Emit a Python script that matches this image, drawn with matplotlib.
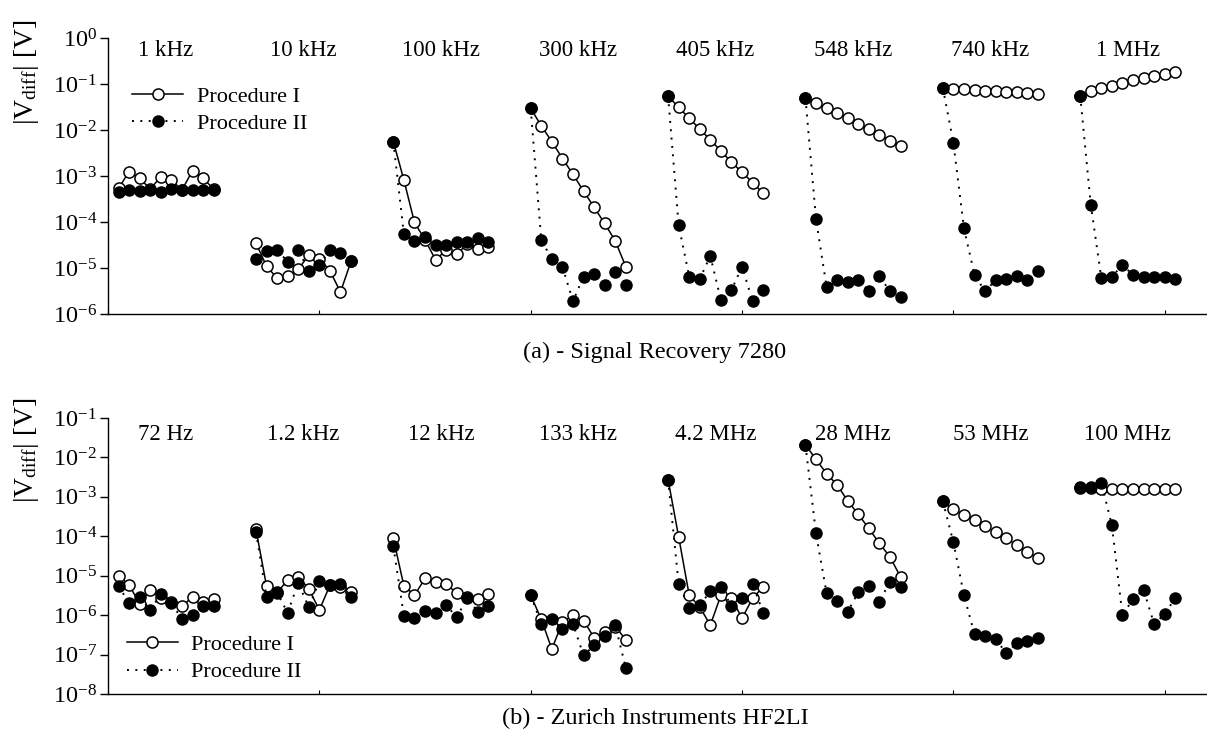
import numpy as np
import matplotlib
matplotlib.use("Agg")
import matplotlib.pyplot as plt
from matplotlib.lines import Line2D
from matplotlib.ticker import LogFormatterMathtext, NullLocator, FixedLocator, LogLocator

plt.rcParams['font.family'] = ['Liberation Serif', 'DejaVu Serif']
plt.rcParams['mathtext.fontset'] = 'custom'
plt.rcParams['mathtext.rm'] = 'Liberation Serif'
plt.rcParams['mathtext.it'] = 'Liberation Serif:italic'
plt.rcParams['mathtext.bf'] = 'Liberation Serif:bold'

# ---------------- data: (a) Signal Recovery 7280 ----------------
freqs_a = ["1 kHz", "10 kHz", "100 kHz", "300 kHz", "405 kHz", "548 kHz", "740 kHz", "1 MHz"]
procI_a = [
    [5.4e-4, 1.25e-3, 8.9e-4, 5.2e-4, 9.7e-4, 8.1e-4, 5.0e-4, 1.3e-3, 8.9e-4, 5.2e-4],
    [3.5e-5, 1.1e-5, 6.0e-6, 6.7e-6, 9.4e-6, 1.9e-5, 1.6e-5, 8.7e-6, 3.0e-6, 1.4e-5],
    [5.6e-3, 8.2e-4, 9.8e-5, 4.1e-5, 1.5e-5, 2.45e-5, 2.0e-5, 3.3e-5, 2.6e-5, 2.9e-5],
    [2.96e-2, 1.23e-2, 5.6e-3, 2.4e-3, 1.09e-3, 4.7e-4, 2.1e-4, 9.3e-5, 3.9e-5, 1.07e-5],
    [5.5e-2, 3.1e-2, 1.8e-2, 1.05e-2, 6.1e-3, 3.5e-3, 2.0e-3, 1.2e-3, 7.2e-4, 4.2e-4],
    [5.0e-2, 3.8e-2, 2.96e-2, 2.3e-2, 1.8e-2, 1.35e-2, 1.03e-2, 7.8e-3, 5.9e-3, 4.5e-3],
    [8.3e-2, 7.9e-2, 7.7e-2, 7.5e-2, 7.2e-2, 7.0e-2, 6.8e-2, 6.6e-2, 6.3e-2, 6.0e-2],
    [5.6e-2, 7.2e-2, 8.1e-2, 9.1e-2, 1.03e-1, 1.22e-1, 1.37e-1, 1.49e-1, 1.65e-1, 1.86e-1],
]
procII_a = [
    [4.6e-4, 5.0e-4, 4.7e-4, 5.0e-4, 4.5e-4, 5.2e-4, 4.9e-4, 5.0e-4, 5.0e-4, 5.0e-4],
    [1.55e-5, 2.4e-5, 2.5e-5, 1.37e-5, 2.5e-5, 8.6e-6, 1.17e-5, 2.45e-5, 2.15e-5, 1.44e-5],
    [5.6e-3, 5.4e-5, 3.9e-5, 4.7e-5, 3.1e-5, 3.2e-5, 3.6e-5, 3.7e-5, 4.4e-5, 3.6e-5],
    [2.96e-2, 4.1e-5, 1.55e-5, 1.07e-5, 1.9e-6, 6.5e-6, 7.3e-6, 4.3e-6, 8.3e-6, 4.3e-6],
    [5.5e-2, 8.6e-5, 6.5e-6, 5.8e-6, 1.82e-5, 2.0e-6, 3.3e-6, 1.07e-5, 1.9e-6, 3.3e-6],
    [5.0e-2, 1.15e-4, 3.9e-6, 5.5e-6, 5.0e-6, 5.5e-6, 3.2e-6, 6.7e-6, 3.1e-6, 2.4e-6],
    [8.3e-2, 5.3e-3, 7.3e-5, 7.1e-6, 3.1e-6, 5.5e-6, 5.7e-6, 6.7e-6, 5.5e-6, 8.6e-6],
    [5.6e-2, 2.4e-4, 6.0e-6, 6.5e-6, 1.16e-5, 7.1e-6, 6.3e-6, 6.3e-6, 6.3e-6, 5.8e-6],
]

# ---------------- data: (b) Zurich Instruments HF2LI ----------------
freqs_b = ["72 Hz", "1.2 kHz", "12 kHz", "133 kHz", "4.2 MHz", "28 MHz", "53 MHz", "100 MHz"]
procI_b = [
    [1.0e-5, 5.9e-6, 1.9e-6, 4.4e-6, 2.7e-6, 2.1e-6, 1.66e-6, 2.95e-6, 2.1e-6, 2.6e-6],
    [1.5e-4, 5.5e-6, 3.8e-6, 7.6e-6, 9.4e-6, 4.7e-6, 1.35e-6, 5.7e-6, 5.1e-6, 3.8e-6],
    [8.9e-5, 5.5e-6, 3.2e-6, 8.5e-6, 6.8e-6, 6.2e-6, 3.6e-6, 2.9e-6, 2.5e-6, 3.5e-6],
    [3.2e-6, 7.9e-7, 1.38e-7, 6.6e-7, 9.8e-7, 7.3e-7, 2.7e-7, 3.8e-7, 5.1e-7, 2.4e-7],
    [2.75e-3, 9.8e-5, 3.2e-6, 1.6e-6, 5.6e-7, 3.2e-6, 2.7e-6, 8.3e-7, 2.7e-6, 5.2e-6],
    [2.1e-2, 8.9e-3, 3.9e-3, 2.0e-3, 7.9e-4, 3.6e-4, 1.58e-4, 6.6e-5, 3.0e-5, 9.3e-6],
    [7.8e-4, 4.9e-4, 3.5e-4, 2.6e-4, 1.86e-4, 1.26e-4, 8.9e-5, 6.0e-5, 3.9e-5, 2.75e-5],
    [1.72e-3, 1.7e-3, 1.6e-3, 1.6e-3, 1.6e-3, 1.6e-3, 1.6e-3, 1.58e-3, 1.58e-3, 1.55e-3],
]
procII_b = [
    [5.5e-6, 2.0e-6, 2.9e-6, 1.35e-6, 3.4e-6, 2.0e-6, 7.9e-7, 1.0e-6, 1.66e-6, 1.7e-6],
    [1.3e-4, 2.9e-6, 3.7e-6, 1.15e-6, 6.5e-6, 1.6e-6, 7.2e-6, 5.7e-6, 6.3e-6, 2.9e-6],
    [5.6e-5, 9.5e-7, 8.3e-7, 1.3e-6, 1.15e-6, 1.8e-6, 8.9e-7, 2.7e-6, 1.23e-6, 1.66e-6],
    [3.2e-6, 6.0e-7, 8.2e-7, 4.4e-7, 6.0e-7, 9.6e-8, 1.7e-7, 2.9e-7, 5.6e-7, 4.6e-8],
    [2.75e-3, 6.2e-6, 1.55e-6, 1.8e-6, 4.0e-6, 5.1e-6, 1.7e-6, 2.7e-6, 6.2e-6, 1.15e-6],
    [2.1e-2, 1.18e-4, 3.6e-6, 2.3e-6, 1.23e-6, 3.8e-6, 5.5e-6, 2.2e-6, 7.1e-6, 5.1e-6],
    [7.8e-4, 7.1e-5, 3.2e-6, 3.3e-7, 2.95e-7, 2.45e-7, 1.1e-7, 1.94e-7, 2.25e-7, 2.7e-7],
    [1.74e-3, 1.78e-3, 2.3e-3, 1.9e-4, 9.8e-7, 2.6e-6, 4.4e-6, 5.9e-7, 1.07e-6, 2.75e-6],
]

legend_labels = ["Procedure I", "Procedure II"]
captions = ["(a) - Signal Recovery 7280", "(b) - Zurich Instruments HF2LI"]

# ---------------- figure ----------------
W, H = 1207, 738
fig = plt.figure(figsize=(W / 100, H / 100), dpi=100)

def px_axes(left, top, right, bottom):
    return fig.add_axes([left / W, 1 - bottom / H, (right - left) / W, (bottom - top) / H])

ax_a = px_axes(108, 38, 1207, 314)
ax_b = px_axes(108, 418, 1207, 694)

ms = 8.0
open_kw = dict(color='black', lw=1.1, marker='o', ms=ms, mfc='white', mec='black', mew=1.1)
fill_kw = dict(color='black', lw=1.4, ls=(0, (1, 3.3)), marker='o', ms=ms, mfc='black', mec='black')

def draw(ax, freqs, pI, pII, ylim, label_y, legend_anchor):
    npts = len(pI[0])
    step = npts + 3
    for g, name in enumerate(freqs):
        x = 1 + step * g + np.arange(npts)
        ax.plot(x, pI[g], zorder=3, **open_kw)
        ax.plot(x, pII[g], zorder=4, **fill_kw)
        ax.text(x.mean(), label_y, name, transform=ax.get_xaxis_transform(),
                ha='center', va='center', fontsize=16.5)
    ax.set_yscale('log')
    ax.set_ylim(*ylim)
    ax.set_xlim(0, 104)
    ax.yaxis.set_major_locator(LogLocator(base=10, numticks=20))
    ax.yaxis.set_major_formatter(LogFormatterMathtext())
    ax.yaxis.set_minor_locator(NullLocator())
    ax.xaxis.set_major_locator(FixedLocator([0, 20, 40, 60, 80, 100]))
    ax.tick_params(axis='x', direction='in', length=3, width=0.8, labelbottom=False)
    ax.tick_params(axis='y', direction='out', length=6, width=1.0, labelsize=17.5, pad=2)
    for s in ['top', 'right']:
        ax.spines[s].set_visible(False)
    for s in ['left', 'bottom']:
        ax.spines[s].set_linewidth(1.0)
    handles = [Line2D([], [], **open_kw), Line2D([], [], **fill_kw)]
    ax.legend(handles, legend_labels, loc='upper left', bbox_to_anchor=legend_anchor,
              frameon=False, fontsize=16, handlelength=2.3, handletextpad=0.6,
              labelspacing=0.3, borderpad=0, borderaxespad=0)
    ax.set_ylabel(r"|V$_{\mathrm{diff}}$| [V]", fontsize=20)

draw(ax_a, freqs_a, procI_a, procII_a, (1e-6, 1e0), 0.955, (0.022, 0.825))
draw(ax_b, freqs_b, procI_b, procII_b, (1e-8, 1e-1), 0.94, (0.017, 0.215))

ax_a.yaxis.set_label_coords(-0.061, (314 - 72) / 276)
ax_b.yaxis.set_label_coords(-0.061, (694 - 450) / 276.6)

fig.text(655 / W, 1 - 352 / H, captions[0], ha='center', va='center', fontsize=17.5)
fig.text(655 / W, 1 - 718 / H, captions[1], ha='center', va='center', fontsize=17.5)

fig.savefig("out.png", dpi=100)
